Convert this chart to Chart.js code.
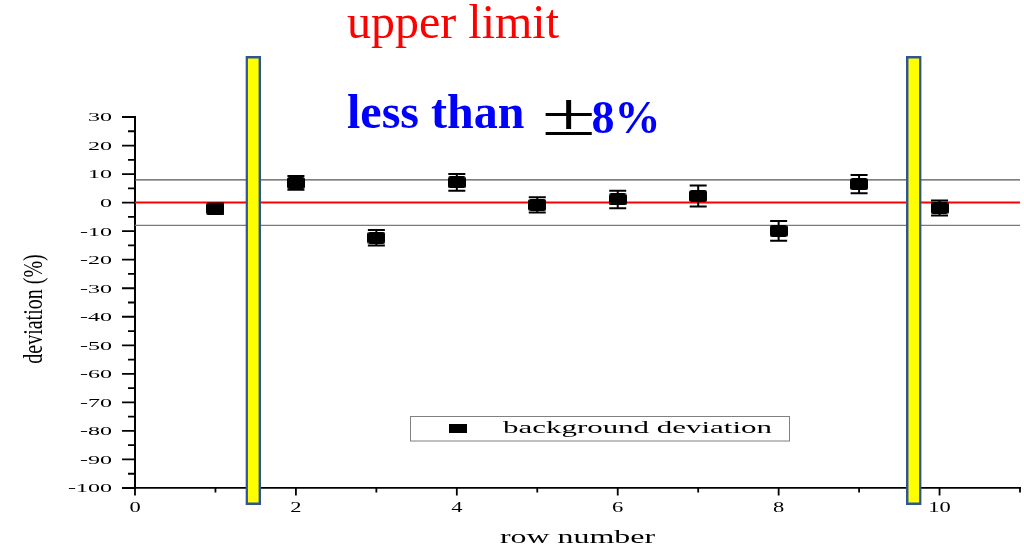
<!DOCTYPE html>
<html>
<head>
<meta charset="utf-8">
<title>Background deviation by row</title>
<script src="https://cdn.jsdelivr.net/npm/chart.js@4.4.0/dist/chart.umd.min.js"></script>
<style>
  html, body { margin: 0; padding: 0; background: #ffffff; }
  #wrap { width: 1024px; height: 548px; position: relative; }
</style>
</head>
<body>
<div id="wrap"><canvas id="chart"></canvas></div>
<script>
// Row numbers and measured background deviation (%) with its uncertainty
const rowNumbers = [1, 2, 3, 4, 5, 6, 7, 8, 9, 10];
const deviation = [-2.1, 6.9, -12.3, 7.1, -0.8, 1.1, 2.3, -9.9, 6.5, -1.9];
const deviationError = [1.8, 2.4, 2.7, 2.9, 2.7, 3.1, 3.7, 3.5, 3.2, 2.6];

// Acceptance band (+/- 8 %) and the zero reference
const limitLevels = [8, -8];
const referenceLevel = 0;

// Highlighted row boundaries (yellow columns) and their vertical extent
const boundaryRows = [1.47, 9.68];
const boundarySpan = [-105.8, 51.3];

// Axis ranges, tick positions and tick labels
const xRange = [0, 11];
const yRange = [-100, 30];
const xMajorTicks = [0, 2, 4, 6, 8, 10];
const xMinorTicks = [1, 3, 5, 7, 9, 11];
const xTickLabels = ['0', '2', '4', '6', '8', '10'];
const yMajorTicks = [30, 20, 10, 0, -10, -20, -30, -40, -50, -60, -70, -80, -90, -100];
const yMinorTicks = [25, 15, 5, -5, -15, -25, -35, -45, -55, -65, -75, -85, -95];
const yTickLabels = ['30', '20', '10', '0', '-10', '-20', '-30', '-40', '-50', '-60', '-70', '-80', '-90', '-100'];

// Text
const headline = 'upper limit';
const bandText = 'less than ';
const bandSign = '\u00B1';
const bandValue = '8%';
const xTitle = 'row number';
const yTitle = 'deviation (%)';
const seriesName = 'background deviation';

const SERIF = '"Liberation Serif", "Times New Roman", serif';

// Rounded black rectangle used as the point marker
function makeMarker(w, h, r) {
  const c = document.createElement('canvas');
  c.width = w; c.height = h;
  const g = c.getContext('2d');
  g.fillStyle = '#000000';
  g.beginPath();
  g.roundRect(0, 0, w, h, r);
  g.fill();
  return c;
}
const marker = makeMarker(18, 12, 2.5);

// Text stretched horizontally, as the axis labels are drawn wide
function wideText(ctx, text, x, y, font, color, sx, align) {
  ctx.save();
  ctx.translate(x, y);
  ctx.scale(sx, 1);
  ctx.font = font;
  ctx.fillStyle = color;
  ctx.textAlign = align || 'left';
  ctx.textBaseline = 'alphabetic';
  ctx.fillText(text, 0, 0);
  ctx.restore();
}

// Vertical error bars with caps
const errorBars = {
  id: 'errorBars',
  afterDatasetsDraw(chart) {
    const { ctx, scales: { x, y } } = chart;
    ctx.save();
    ctx.strokeStyle = '#000000';
    ctx.lineWidth = 2;
    rowNumbers.forEach((r, i) => {
      const px = x.getPixelForValue(r);
      const hi = y.getPixelForValue(deviation[i] + deviationError[i]);
      const lo = y.getPixelForValue(deviation[i] - deviationError[i]);
      ctx.beginPath();
      ctx.moveTo(px, hi); ctx.lineTo(px, lo);
      ctx.moveTo(px - 8.5, hi); ctx.lineTo(px + 8.5, hi);
      ctx.moveTo(px - 8.5, lo); ctx.lineTo(px + 8.5, lo);
      ctx.stroke();
    });
    ctx.restore();
  }
};

// Tick marks, tick labels, axis titles, legend box and headline
const decorations = {
  id: 'decorations',
  afterDraw(chart) {
    const { ctx, chartArea: area, scales: { x, y } } = chart;
    ctx.save();
    ctx.strokeStyle = '#000000';
    ctx.lineWidth = 1.8;
    ctx.beginPath();
    yMajorTicks.forEach(v => { const py = y.getPixelForValue(v); ctx.moveTo(area.left - 13, py); ctx.lineTo(area.left, py); });
    yMinorTicks.forEach(v => { const py = y.getPixelForValue(v); ctx.moveTo(area.left - 7, py); ctx.lineTo(area.left, py); });
    xMajorTicks.forEach(v => { const px = x.getPixelForValue(v); ctx.moveTo(px, area.bottom); ctx.lineTo(px, area.bottom + 7.5); });
    xMinorTicks.forEach(v => { const px = x.getPixelForValue(v); ctx.moveTo(px, area.bottom); ctx.lineTo(px, area.bottom + 4.5); });
    ctx.stroke();
    ctx.restore();

    yMajorTicks.forEach((v, i) => {
      wideText(ctx, yTickLabels[i], area.left - 23, y.getPixelForValue(v) + 4.4,
        '13px ' + SERIF, '#000000', 1.85, 'right');
    });
    xMajorTicks.forEach((v, i) => {
      wideText(ctx, xTickLabels[i], x.getPixelForValue(v), area.bottom + 23.5,
        '15px ' + SERIF, '#000000', 1.5, 'center');
    });

    // Axis titles
    wideText(ctx, xTitle, (area.left + area.right) / 2, 542.5, '19px ' + SERIF, '#000000', 1.68, 'center');
    ctx.save();
    ctx.translate(41.5, 309);
    ctx.rotate(-Math.PI / 2);
    ctx.scale(1, 1.35);
    ctx.font = '20px ' + SERIF;
    ctx.fillStyle = '#000000';
    ctx.textAlign = 'center';
    ctx.textBaseline = 'alphabetic';
    ctx.fillText(yTitle, 0, 0);
    ctx.restore();

    // Legend
    ctx.save();
    ctx.strokeStyle = '#808080';
    ctx.lineWidth = 1;
    ctx.strokeRect(410.5, 416.5, 379, 24.5);
    ctx.fillStyle = '#000000';
    ctx.fillRect(449, 424, 18, 9);
    ctx.restore();
    wideText(ctx, seriesName, 503, 433.3, '17px ' + SERIF, '#000000', 1.82, 'left');

    // Headline
    wideText(ctx, headline, 347, 37.7, '48px ' + SERIF, '#ff0000', 1, 'left');
    wideText(ctx, bandText, 347, 127.7, 'bold 48px ' + SERIF, '#0000ff', 1, 'left');
    wideText(ctx, bandSign, 541.5, 134.5, '62px ' + SERIF, '#000000', 1.6, 'left');
    wideText(ctx, bandValue, 591.5, 133.3, 'bold 46px ' + SERIF, '#0000ff', 1, 'left');
  }
};

const levelLine = (level, color, width) => ({
  type: 'line',
  data: xRange.map(v => ({ x: v, y: level })),
  borderColor: color,
  borderWidth: width,
  pointRadius: 0,
  fill: false,
  order: 3
});

new Chart(document.getElementById('chart'), {
  type: 'scatter',
  data: {
    datasets: [
      {
        type: 'scatter',
        label: seriesName,
        data: rowNumbers.map((r, i) => ({ x: r, y: deviation[i] })),
        pointStyle: marker,
        pointRadius: 9,
        order: 0
      },
      {
        type: 'bar',
        data: boundaryRows.map(r => ({ x: r, y: boundarySpan })),
        backgroundColor: '#ffff00',
        borderColor: '#2f5597',
        borderWidth: 2.5,
        borderSkipped: false,
        barThickness: 15,
        clip: false,
        order: 1
      },
      levelLine(limitLevels[0], '#555555', 1.3),
      levelLine(limitLevels[1], '#7a7a7a', 1.3),
      levelLine(referenceLevel, '#ff0000', 2)
    ]
  },
  options: {
    responsive: true,
    maintainAspectRatio: false,
    animation: false,
    layout: { autoPadding: false, padding: { top: 117, right: 4, left: 0, bottom: 0 } },
    plugins: { legend: { display: false }, tooltip: { enabled: false }, title: { display: false } },
    scales: {
      x: {
        type: 'linear',
        position: 'bottom',
        offset: false,
        min: xRange[0], max: xRange[1],
        grid: { display: false, drawTicks: false, offset: false },
        border: { display: true, color: '#000000', width: 1.8 },
        ticks: { display: false },
        afterFit(scale) { scale.height = 60; }
      },
      y: {
        type: 'linear',
        position: 'left',
        min: yRange[0], max: yRange[1],
        grid: { display: false, drawTicks: false },
        border: { display: true, color: '#000000', width: 2 },
        ticks: { display: false },
        afterFit(scale) { scale.width = 135; }
      }
    }
  },
  plugins: [errorBars, decorations]
});
</script>
</body>
</html>
